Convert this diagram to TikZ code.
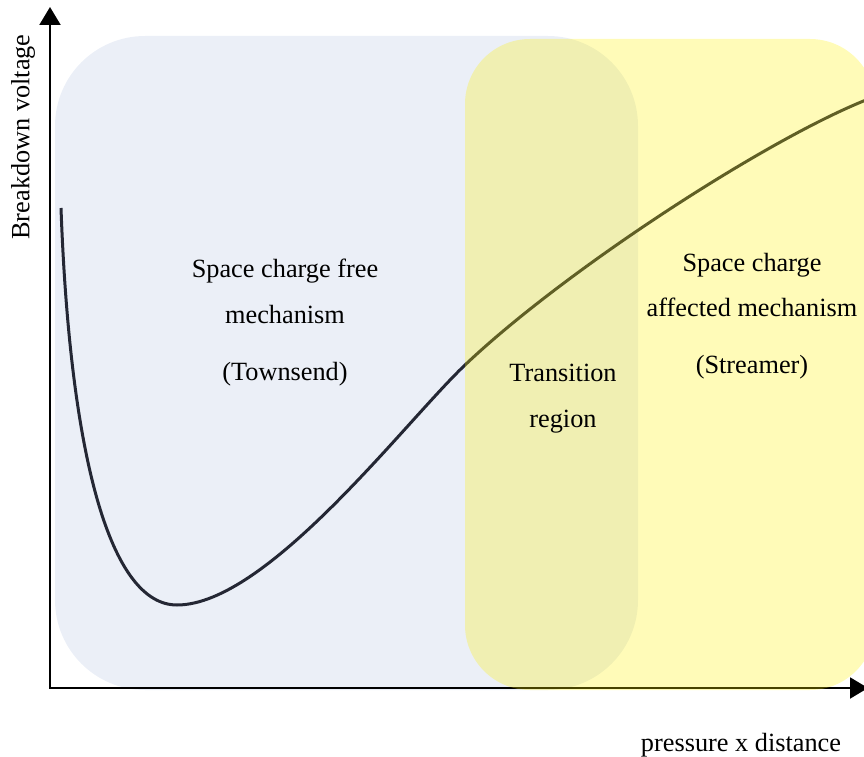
\documentclass[tikz,border=0pt]{standalone}
\usepackage{fontspec}
\setmainfont{Liberation Serif}
\usetikzlibrary{arrows.meta}
\definecolor{bluebg}{RGB}{235,239,247}
\definecolor{curvecol}{RGB}{36,39,52}
\tikzset{
  lbl/.style={font=\fontsize{26.3}{46}\selectfont, inner sep=0pt, text=black, anchor=base},
  axisline/.style={line width=2pt, {Triangle[length=18pt,width=21pt]}-{Triangle[length=18pt,width=21pt]}},
  regionA/.style={fill=bluebg, rounded corners=90pt},
  regionB/.style={fill=yellow, fill opacity=0.28, rounded corners=65pt},
  curvestyle/.style={draw=curvecol, line width=3pt}
}
\begin{document}
\begin{tikzpicture}[x=1pt,y=1pt]
\useasboundingbox (0,0) rectangle (864,756);
% Townsend region
\path[regionA] (55,66) rectangle (638,720);
% breakdown curve
\draw[curvestyle] (61,548) .. controls (70,300) and (110,151) .. (177,151)
  .. controls (267,151) and (405,334) .. (465,391)
  .. controls (565,486) and (766,616) .. (866,656);
% axes
\coordinate (ytip) at (50,749);
\coordinate (xtip) at (868,68);
\draw[axisline] (ytip) |- (xtip);
% Streamer region (translucent, on top)
\path[regionB] (465,66) rectangle (875,717);
% labels
\node[lbl] (free1) at (285,478) {Space charge free};
\node[lbl] (free2) at (285,432) {mechanism};
\node[lbl] (free3) at (285,375.5) {(Townsend)};
\node[lbl] (trans1) at (563,374.5) {Transition};
\node[lbl] (trans2) at (563,328.5) {region};
\node[lbl] (str1) at (752,484.3) {Space charge};
\node[lbl] (str2) at (752,439.3) {affected mechanism};
\node[lbl] (str3) at (752,383) {(Streamer)};
\node[lbl, rotate=90, anchor=center] (ylab) at (23,619) {Breakdown voltage};
\node[lbl] (xlab) at (741,4.5) {pressure x distance};
\end{tikzpicture}
\end{document}
